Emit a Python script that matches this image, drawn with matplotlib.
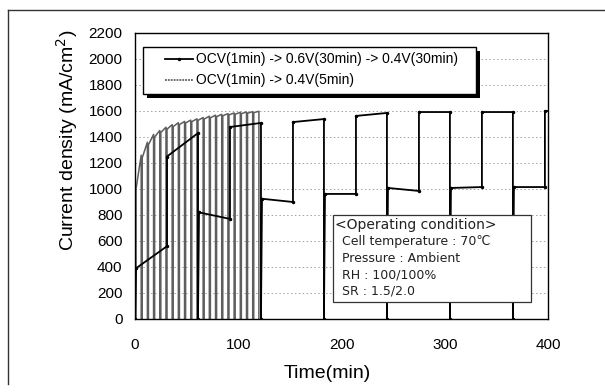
import matplotlib
matplotlib.use("Agg")
import matplotlib.pyplot as plt
from matplotlib.patches import Rectangle
from matplotlib.lines import Line2D

plt.rcParams['font.family'] = ['Liberation Sans', 'DejaVu Sans']

# ---------------- data ----------------
# Series 1: OCV (1 min) -> 0.6 V (30 min) -> 0.4 V (30 min), repeated
s1_label = "OCV(1min) -> 0.6V(30min) -> 0.4V(30min)"
s1_ocv_min = 1
s1_hold06_min = 30
s1_hold04_min = 30
s1_06_start = [390, 820, 925, 962, 1008, 1008, 1015]
s1_06_end = [560, 770, 900, 962, 985, 1015, 1015]
s1_04_start = [1250, 1477, 1515, 1562, 1592, 1592, 1600]
s1_04_end = [1430, 1508, 1538, 1585, 1592, 1592, 1600]

# Series 2: OCV (1 min) -> 0.4 V (5 min), repeated 20 times
s2_label = "OCV(1min) -> 0.4V(5min)"
s2_ocv_min = 1
s2_hold04_min = 5
s2_start = [1000, 1240, 1340, 1400, 1435, 1460, 1480, 1495, 1508, 1518,
            1528, 1538, 1548, 1556, 1563, 1570, 1575, 1580, 1583, 1587]
s2_end = [1260, 1360, 1420, 1450, 1475, 1495, 1510, 1520, 1530, 1540,
          1550, 1560, 1568, 1575, 1580, 1585, 1590, 1592, 1595, 1598]

x_ticks = [0, 100, 200, 300, 400]
y_ticks = list(range(0, 2201, 200))

cond_lines = ["<Operating condition>",
              "Cell temperature : 70\u2103",
              "Pressure : Ambient",
              "RH : 100/100%",
              "SR : 1.5/2.0"]

# ---------------- build step paths ----------------
x1, y1 = [0], [0]
t = 0
for a, b, c, d in zip(s1_06_start, s1_06_end, s1_04_start, s1_04_end):
    x1 += [t + s1_ocv_min, t + s1_ocv_min + s1_hold06_min]
    y1 += [a, b]
    t2 = t + s1_ocv_min + s1_hold06_min
    x1 += [t2, t2 + s1_hold04_min]
    y1 += [c, d]
    t = t2 + s1_hold04_min
    x1 += [t]
    y1 += [0]

x2, y2 = [0], [0]
t = 0
for a, b in zip(s2_start, s2_end):
    x2 += [t + s2_ocv_min, t + s2_ocv_min, t + s2_ocv_min + s2_hold04_min]
    y2 += [0, a, b]
    t = t + s2_ocv_min + s2_hold04_min
    x2 += [t]
    y2 += [0]

# ---------------- figure ----------------
W, H = 605, 392
AX_L, AX_T, AX_W, AX_H = 135, 33, 413, 286
fig = plt.figure(figsize=(W / 100, H / 100), dpi=100)
ax = fig.add_axes([AX_L / W, 1 - (AX_T + AX_H) / H, AX_W / W, AX_H / H])


def ax_xy(px, py):
    """pixel position -> axes fraction (layout helper)"""
    return (px - AX_L) / AX_W, 1 - (py - AX_T) / AX_H


gray = '#5e5e5e'
ax.plot(x2, y2, color=gray, lw=1.1, zorder=2)
ax.plot(x1, y1, color='black', lw=1.3, zorder=3, marker='.', markersize=3)

ax.set_xlim(0, 400)
ax.set_ylim(0, 2200)
ax.set_xticks(x_ticks)
ax.set_yticks(y_ticks)
ax.tick_params(axis='both', length=0, labelsize=11)
ax.tick_params(axis='x', pad=14)
ax.tick_params(axis='y', pad=9)
for yv in y_ticks[1:-1]:
    ax.axhline(yv, color='#a0a0a0', lw=0.7, ls=(0, (1.5, 2.5)), zorder=1)
for s in ax.spines.values():
    s.set_linewidth(1.0)
    s.set_color('black')

ax.set_ylabel("Current density (mA/cm$^2$)", fontsize=14)
ax.yaxis.set_label_coords(*ax_xy(80, 140))
ax.set_xlabel("Time(min)", fontsize=14)
ax.xaxis.set_label_coords(*ax_xy(327, 365))

# ---- legend drawn by hand (box with black drop shadow) ----
lx0, ly0 = ax_xy(143, 47)
lx1, ly1 = ax_xy(476, 94)
sx, sy = 4 / AX_W, 4 / AX_H
ax.add_patch(Rectangle((lx0 + sx, ly1 - sy), lx1 - lx0, ly0 - ly1,
                       transform=ax.transAxes, facecolor='black',
                       edgecolor='black', lw=0, zorder=6, clip_on=False))
ax.add_patch(Rectangle((lx0, ly1), lx1 - lx0, ly0 - ly1,
                       transform=ax.transAxes, facecolor='white',
                       edgecolor='black', lw=1.0, zorder=6.5, clip_on=False))
for (lbl, col, ls, mk), py in zip(
        [(s1_label, 'black', '-', '.'), (s2_label, gray, (0, (1, 0.6)), None)],
        [59, 80]):
    hx0, hy = ax_xy(165, py)
    hx1, _ = ax_xy(193, py)
    ax.add_line(Line2D([hx0, (hx0 + hx1) / 2, hx1], [hy, hy, hy],
                       transform=ax.transAxes, color=col, lw=1.3, ls=ls,
                       marker=mk, markersize=3, markevery=[1], zorder=7))
    tx, ty = ax_xy(196, py)
    ax.text(tx, ty, lbl, transform=ax.transAxes, fontsize=10,
            va='center', ha='left', zorder=7)

# ---- operating condition box ----
bx0, by1 = ax_xy(333, 215)
bx1, by0 = ax_xy(531, 302)
ax.add_patch(Rectangle((bx0, by0), bx1 - bx0, by1 - by0, transform=ax.transAxes,
                       facecolor='white', edgecolor='#333333', lw=0.9, zorder=7))
line_y = [225, 242, 259, 275, 291]
line_x = [335, 342, 342, 342, 342]
line_fs = [10, 9, 9, 9, 9]
for txt, px, py, fs in zip(cond_lines, line_x, line_y, line_fs):
    tx, ty = ax_xy(px, py)
    ax.text(tx, ty, txt, transform=ax.transAxes,
            fontsize=fs, family=['DejaVu Sans'], va='center', ha='left',
            color='#222222', zorder=8)

# outer frame of the scanned figure (left and top edges)
fig.add_artist(Line2D([8 / W, 8 / W], [1 - 384 / H, 1 - 10 / H],
                      transform=fig.transFigure, color='#333333', lw=1.0))
fig.add_artist(Line2D([8 / W, 1.0], [1 - 10 / H, 1 - 10 / H],
                      transform=fig.transFigure, color='#333333', lw=1.0))

fig.savefig("out.png", dpi=100)
